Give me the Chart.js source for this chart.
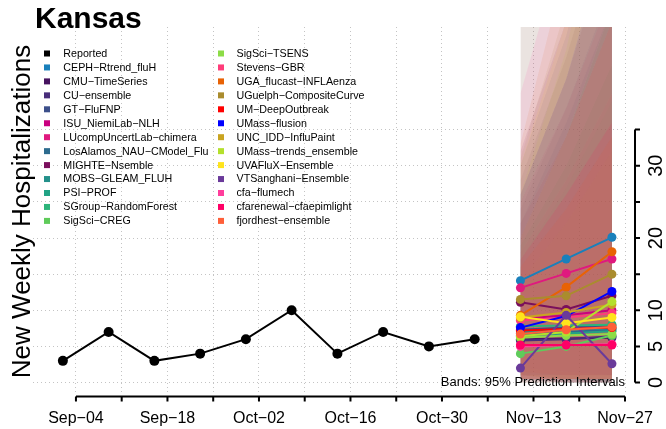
<!DOCTYPE html>
<html>
<head>
<meta charset="utf-8">
<script src="https://cdn.jsdelivr.net/npm/chart.js@4.4.1/dist/chart.umd.min.js"></script>
<style>
  html, body { margin: 0; padding: 0; background: #fff; }
  #wrap { width: 666px; height: 429px; }
</style>
</head>
<body>
<div id="wrap"><canvas id="myChart" width="666" height="429"></canvas></div>
<script>
// days counted from Sep-02
const reportedDays = [0, 7, 14, 21, 28, 35, 42, 49, 56, 63];
const reportedValues = [3, 7, 3, 4, 6, 10, 4, 7, 5, 6];
const forecastDays = [70, 77, 84];

const models = [
  'CEPH\u2212Rtrend_fluH', 'CMU\u2212TimeSeries', 'CU\u2212ensemble', 'GT\u2212FluFNP',
  'ISU_NiemiLab\u2212NLH', 'LUcompUncertLab\u2212chimera', 'LosAlamos_NAU\u2212CModel_Flu',
  'MIGHTE\u2212Nsemble', 'MOBS\u2212GLEAM_FLUH', 'PSI\u2212PROF', 'SGroup\u2212RandomForest',
  'SigSci\u2212CREG', 'SigSci\u2212TSENS', 'Stevens\u2212GBR', 'UGA_flucast\u2212INFLAenza',
  'UGuelph\u2212CompositeCurve', 'UM\u2212DeepOutbreak', 'UMass\u2212flusion',
  'UNC_IDD\u2212InfluPaint', 'UMass\u2212trends_ensemble', 'UVAFluX\u2212Ensemble',
  'VTSanghani\u2212Ensemble', 'cfa\u2212flumech', 'cfarenewal\u2212cfaepimlight', 'fjordhest\u2212ensemble'
];
const modelColors = [
  '#1a80bb', '#46135f', '#482d7a', '#3c4f8a', '#c9007f', '#e0197f', '#2d6b8e',
  '#7a0f5c', '#23908a', '#22a385', '#2db47a', '#5fcb5a', '#8cdc46', '#ff3c7a',
  '#e86205', '#aa8c2e', '#ff0000', '#0000ff', '#c9a421', '#b4e02c', '#ffe41c',
  '#6a3a9a', '#ff3d9c', '#ff0066', '#ff5f39'
];
const forecastMedian = [
  [14.1, 17.1, 20.1], [6.0, 6.1, 6.2], [5.8, 6.0, 6.4], [7.3, 7.6, 7.9],
  [8.8, 9.3, 10.0], [13.1, 15.1, 17.1], [6.8, 7.0, 7.3], [11.1, 10.1, 12.0],
  [7.0, 7.3, 7.5], [6.5, 6.8, 7.1], [7.8, 7.9, 8.0], [4.0, 5.0, 6.5],
  [6.2, 6.5, 6.7], [8.6, 9.0, 9.6], [9.3, 13.2, 18.1], [11.5, 12.0, 15.0],
  [7.2, 7.4, 7.6], [7.6, 9.2, 12.6], [9.0, 9.7, 10.8], [6.4, 7.0, 11.2],
  [9.1, 8.2, 9.0], [2.0, 9.3, 2.6], [5.0, 5.2, 5.3], [5.2, 5.2, 5.2], [6.7, 7.3, 7.7]
];
const bandLower = [
  [2, 1.5, 1], [0.5, 0, 0], [0.5, 0, 0], [1, 0.5, 0], [1, 0.5, 0.5], [1.5, 1, 1], [0.5, 0.5, 0],
  [1, 0.5, 0.5], [0.5, 0.5, 0], [0.5, 0, 0], [1, 0.5, 0.5], [0, 0, 0], [0.5, 0, 0],
  [0.5, 0.5, 0.5], [1, 1, 1], [1.5, 1, 1], [0.5, 0.5, 0.5], [1, 1, 1], [0, 0, 0], [0.5, 0.5, 0.5],
  [1, 0.5, 0.5], [0, 0, 0], [0, 0, 0], [0.5, 0, 0], [0.5, 0.5, 0.5]
];
const bandUpper = [
  [30, 48, 72], [26, 42, 62], [28, 45, 66], [24, 38, 55], [22, 34, 50], [25, 38, 54],
  [22, 36, 52], [32, 50, 75], [19, 30, 44], [17, 27, 39], [20, 34, 52], [14, 22, 32],
  [16, 24, 34], [18, 28, 40], [33, 58, 90], [31, 52, 80], [16, 24, 34], [26, 42, 64],
  [62, 85, 120], [26, 46, 75], [30, 50, 75], [70, 95, 125], [40, 62, 90], [17, 26, 36],
  [20, 34, 50]
];

const tickDays = [2, 9, 16, 23, 30, 37, 44, 51, 58, 65, 72, 79, 86];
const tickLabels = ['Sep\u221204', '', 'Sep\u221218', '', 'Oct\u221202', '', 'Oct\u221216', '',
  'Oct\u221230', '', 'Nov\u221213', '', 'Nov\u221227'];
const yTicks = [0, 5, 10, 15, 20, 25, 30, 35];
const yTickLabels = ['0', '5', '10', '', '20', '', '30', ''];

const FONT = '"Liberation Sans", Arial, Helvetica, sans-serif';

function rgba(hex, a) {
  const n = parseInt(hex.slice(1), 16);
  return 'rgba(' + (n >> 16) + ',' + ((n >> 8) & 255) + ',' + (n & 255) + ',' + a + ')';
}
function pts(days, vals) {
  return days.map((d, i) => ({ x: d, y: vals[i] }));
}

// later models drawn on top (lower order = drawn later)
const datasets = [];
models.forEach((m, i) => {
  datasets.push({
    data: pts(forecastDays, bandLower[i]),
    borderWidth: 0, pointRadius: 0, fill: false, order: 200 - i
  });
  datasets.push({
    data: pts(forecastDays, bandUpper[i]),
    borderWidth: 0, pointRadius: 0, fill: '-1', order: 200 - i,
    backgroundColor: rgba(modelColors[i], 0.1)
  });
});
models.forEach((m, i) => {
  datasets.push({
    label: m,
    data: pts(forecastDays, forecastMedian[i]),
    borderColor: modelColors[i], backgroundColor: modelColors[i],
    borderWidth: 2, pointRadius: 4.5, pointBorderWidth: 0, order: 100 - i
  });
});
datasets.push({
  label: 'Reported',
  data: pts(reportedDays, reportedValues),
  borderColor: '#000', backgroundColor: '#000',
  borderWidth: 2, pointRadius: 5, pointBorderWidth: 0, order: 1
});

// title, axes, legend
const decor = {
  id: 'decor',
  afterDraw(chart) {
    const ctx = chart.ctx, xs = chart.scales.x, ys = chart.scales.y, area = chart.chartArea;
    ctx.save();
    ctx.fillStyle = '#000';
    ctx.strokeStyle = '#000';

    ctx.font = 'bold 30px ' + FONT;
    ctx.textAlign = 'left';
    ctx.textBaseline = 'alphabetic';
    ctx.fillText('Kansas', 35, 28);

    ctx.save();
    ctx.font = '26px ' + FONT;
    ctx.translate(30, (area.top + area.bottom) / 2 + 2);
    ctx.rotate(-Math.PI / 2);
    ctx.textAlign = 'center';
    ctx.fillText('New Weekly Hospitalizations', 0, 0);
    ctx.restore();

    // x axis
    const ay = area.bottom + 4.5;
    ctx.lineWidth = 2;
    ctx.beginPath();
    ctx.moveTo(xs.getPixelForValue(tickDays[0]), ay);
    ctx.lineTo(xs.getPixelForValue(tickDays[tickDays.length - 1]), ay);
    tickDays.forEach(d => {
      const px = xs.getPixelForValue(d);
      ctx.moveTo(px, ay);
      ctx.lineTo(px, ay + 5);
    });
    ctx.stroke();
    ctx.font = '16px ' + FONT;
    ctx.textAlign = 'center';
    tickDays.forEach((d, i) => {
      if (tickLabels[i]) ctx.fillText(tickLabels[i], xs.getPixelForValue(d), 423);
    });

    // y axis on the right
    const ax = area.right + 10;
    ctx.beginPath();
    ctx.moveTo(ax, ys.getPixelForValue(yTicks[0]));
    ctx.lineTo(ax, ys.getPixelForValue(yTicks[yTicks.length - 1]));
    yTicks.forEach(v => {
      const py = ys.getPixelForValue(v);
      ctx.moveTo(ax, py);
      ctx.lineTo(ax + 5, py);
    });
    ctx.stroke();
    ctx.font = '20px ' + FONT;
    yTicks.forEach((v, i) => {
      if (!yTickLabels[i]) return;
      ctx.save();
      ctx.translate(662, ys.getPixelForValue(v));
      ctx.rotate(-Math.PI / 2);
      ctx.textAlign = 'center';
      ctx.fillText(yTickLabels[i], 0, 0);
      ctx.restore();
    });

    ctx.font = '13px ' + FONT;
    ctx.textAlign = 'right';
    ctx.fillText('Bands: 95% Prediction Intervals', area.right, 386);

    // legend, two columns
    const names = ['Reported'].concat(models);
    const cols = ['#000000'].concat(modelColors);
    ctx.font = '10.7px ' + FONT;
    ctx.textAlign = 'left';
    ctx.textBaseline = 'middle';
    names.forEach((n, i) => {
      const col = i < 13 ? 0 : 1;
      const row = i % 13;
      const yy = 53.5 + row * 13.95;
      const sx = col ? 218 : 44;
      ctx.fillStyle = cols[i];
      ctx.fillRect(sx, yy - 3, 6, 6);
      ctx.fillStyle = '#000';
      ctx.fillText(n, col ? 236.5 : 63.3, yy + 0.5);
    });
    ctx.restore();
  }
};

new Chart(document.getElementById('myChart'), {
  type: 'line',
  data: { datasets: datasets },
  options: {
    responsive: false,
    animation: false,
    events: [],
    layout: { padding: { left: 33, right: 41, top: 27, bottom: 37 } },
    elements: { line: { tension: 0 } },
    plugins: { legend: { display: false }, tooltip: { enabled: false } },
    scales: {
      x: {
        type: 'linear', min: -4.57, max: 86,
        afterBuildTicks: s => { s.ticks = tickDays.map(v => ({ value: v })); },
        afterFit: s => { s.height = 0; },
        ticks: { display: false },
        grid: { color: '#c4c4c4', lineWidth: 1, drawTicks: false },
        border: { display: false, dash: [1, 3] }
      },
      y: {
        type: 'linear', min: -1.31, max: 49.2,
        afterBuildTicks: s => { s.ticks = yTicks.map(v => ({ value: v })); },
        afterFit: s => { s.width = 0; },
        ticks: { display: false },
        grid: { color: '#c4c4c4', lineWidth: 1, drawTicks: false },
        border: { display: false, dash: [1, 3] }
      }
    }
  },
  plugins: [decor]
});
</script>
</body>
</html>
